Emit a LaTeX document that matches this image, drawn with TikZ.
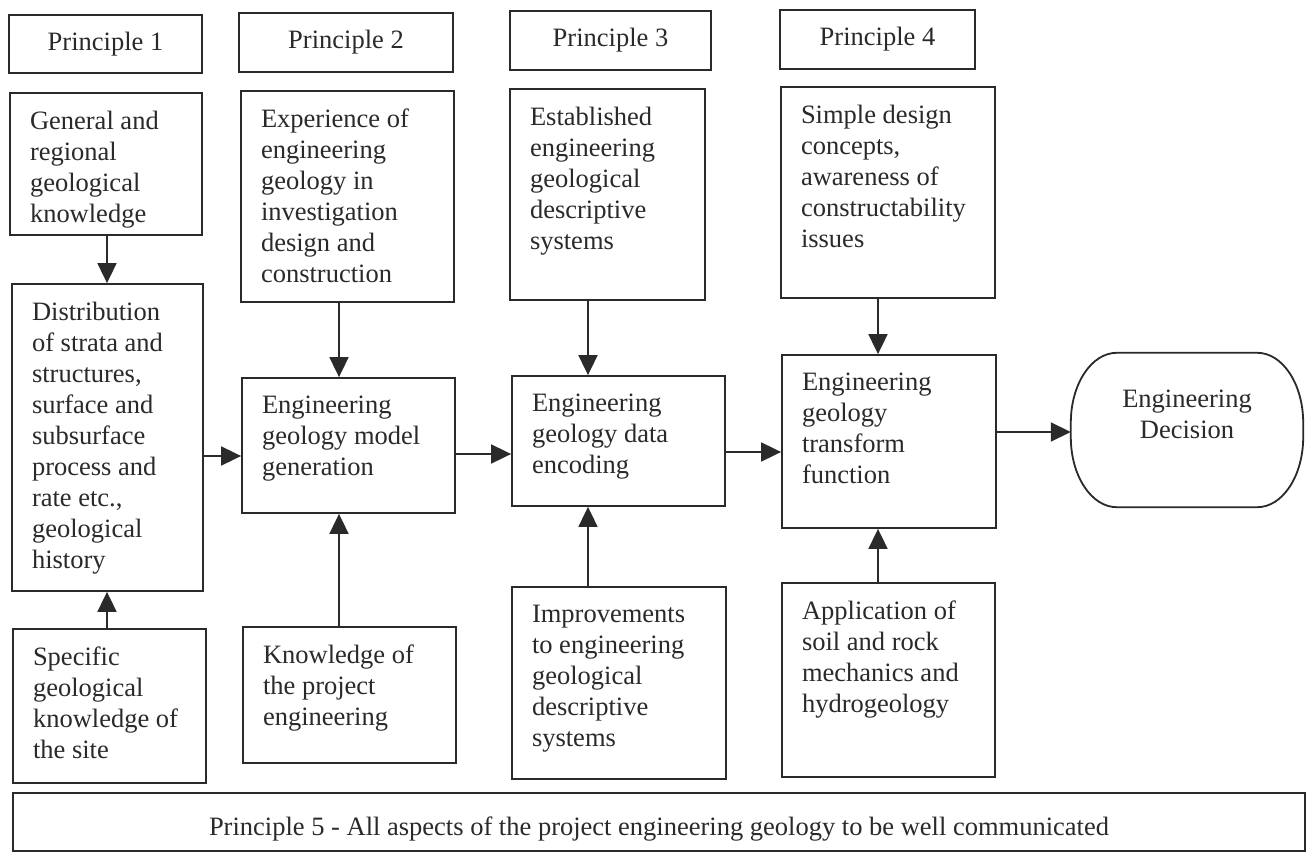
\documentclass[tikz,border=0pt]{standalone}
\usepackage{fontspec}
\setmainfont{Liberation Serif}
\usetikzlibrary{arrows.meta}
\definecolor{ink}{HTML}{2A2A2A}
\newcommand\fs{\fontsize{26.5}{31}\selectfont}
% box: name, x1, y1, x2, y2, text (top-left aligned)
\newcommand\bx[6]{%
  \node[bx, minimum width={#4-#2}, minimum height={#5-#3}] (#1) at ({(#2+#4)/2},{(#3+#5)/2})
  {\parbox[c][\dimexpr #5pt-#3pt-36pt\relax][t]{\dimexpr #4pt-#2pt-40pt\relax}{\raggedright #6}};}
% header: name, x1, y1, x2, y2, text (centred)
\newcommand\hd[6]{%
  \node[bx, minimum width={#4-#2}, minimum height={#5-#3}] (#1) at ({(#2+#4)/2},{(#3+#5)/2}) {#6};}
\begin{document}
\begin{tikzpicture}[x=1pt,y=-1pt,
  bx/.style={draw=ink, line width=1.8pt, inner sep=0pt, text=ink, font=\fs},
  edge/.style={draw=ink, line width=1.8pt},
  arr/.style={draw=ink, line width=1.8pt, -{Triangle[length=20pt,width=19pt]}}]
\useasboundingbox (0,0) rectangle (1312,853);
\fill[white] (0,0) rectangle (1312,853);
% headers
\hd{p1}{9}{15}{202}{73}{Principle 1}
\hd{p2}{239}{13}{453}{72}{Principle 2}
\hd{p3}{510}{11}{711}{70}{Principle 3}
\hd{p4}{780}{10}{975}{69}{Principle 4}
% column 1
\bx{gen}{10}{93}{202}{235}{General and\\regional\\geological\\knowledge}
\bx{dist}{12}{284}{203}{591}{Distribution\\of strata and\\structures,\\surface and\\subsurface\\process and\\rate etc.,\\geological\\history}
\bx{spec}{13}{629}{206}{783}{Specific\\geological\\knowledge of\\the site}
% column 2
\bx{exp}{241}{91}{454}{302}{Experience of\\engineering\\geology in\\investigation\\design and\\construction}
\bx{model}{242}{378}{455}{513}{Engineering\\geology model\\generation}
\bx{know}{243}{627}{456}{763}{Knowledge of\\the project\\engineering}
% column 3
\bx{est}{510}{89}{705}{300}{Established\\engineering\\geological\\descriptive\\systems}
\bx{enc}{512}{376}{725}{506}{Engineering\\geology data\\encoding}
\bx{imp}{512}{587}{726}{779}{Improvements\\to engineering\\geological\\descriptive\\systems}
% column 4
\bx{simp}{781}{87}{995}{298}{Simple design\\concepts,\\awareness of\\constructability\\issues}
\bx{trans}{782}{355}{996}{528}{Engineering\\geology\\transform\\function}
\bx{app}{782}{583}{995}{777}{Application of\\soil and rock\\mechanics and\\hydrogeology}
% decision (terminal with curved sides)
\node[inner sep=0pt, text=ink, font=\fs, minimum width=232, minimum height=154] (dec) at (1187,430)
  {\parbox[c][80pt][t]{200pt}{\centering Engineering\\Decision}};
\draw[edge] ([xshift=46pt]dec.north west) -- ([xshift=-46pt]dec.north east)
  arc[start angle=90, end angle=0, x radius=46pt, y radius=70pt]
  -- ([yshift=70pt]dec.south east)
  arc[start angle=0, end angle=-90, x radius=46pt, y radius=70pt]
  -- ([xshift=46pt]dec.south west)
  arc[start angle=-90, end angle=-180, x radius=46pt, y radius=70pt]
  -- ([yshift=-70pt]dec.north west)
  arc[start angle=180, end angle=90, x radius=46pt, y radius=70pt] -- cycle;
% principle 5
\node[bx, minimum width=1292, minimum height=58, text height=31pt, text depth=5pt] (p5) at (659,822)
  {Principle 5 - All aspects of the project engineering geology to be well communicated};
% guide coordinates
\coordinate (c1) at (107,0);
\coordinate (c2) at (339,0);
\coordinate (c3) at (588,0);
\coordinate (c4) at (878,0);
\coordinate (r1) at (0,456);
\coordinate (r2) at (0,454);
\coordinate (r3) at (0,452);
\coordinate (r4) at (0,432);
% vertical arrows
\draw[arr] (gen.south -| c1) -- (dist.north -| c1);
\draw[arr] (spec.north -| c1) -- (dist.south -| c1);
\draw[arr] (exp.south -| c2) -- (model.north -| c2);
\draw[arr] (know.north -| c2) -- (model.south -| c2);
\draw[arr] (est.south -| c3) -- (enc.north -| c3);
\draw[arr] (imp.north -| c3) -- (enc.south -| c3);
\draw[arr] (simp.south -| c4) -- (trans.north -| c4);
\draw[arr] (app.north -| c4) -- (trans.south -| c4);
% horizontal arrows
\draw[arr] (dist.east |- r1) -- (model.west |- r1);
\draw[arr] (model.east |- r2) -- (enc.west |- r2);
\draw[arr] (enc.east |- r3) -- (trans.west |- r3);
\draw[arr] (trans.east |- r4) -- (dec.west |- r4);
\end{tikzpicture}
\end{document}
